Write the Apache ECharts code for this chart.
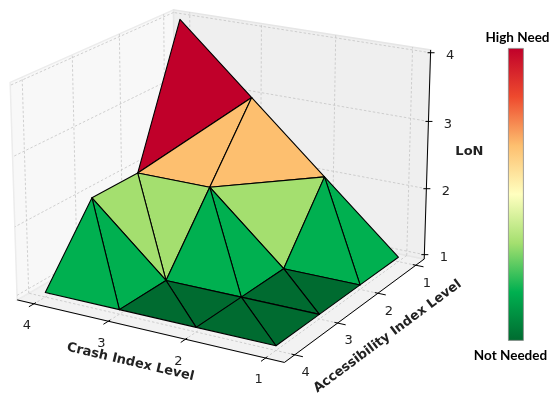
<!DOCTYPE html>
<html><head><meta charset="utf-8">
<script src="https://cdn.jsdelivr.net/npm/echarts@6.0.0/dist/echarts.min.js"></script>
<style>html,body{margin:0;padding:0;background:#fff}#chart{width:550px;height:401px}</style>
</head><body><div id="chart"></div>
<script>
// ---- data ----
const crashLevels = [1, 2, 3, 4];
const accessLevels = [1, 2, 3, 4];
const lonTicks = [1, 2, 3, 4];
const lonAtAccess1 = [1, 2, 3, 4];   // LoN for crash 1..4
const lonAtAccess2 = [1, 1, 2, 2];
const lonAtAccess3 = [1, 1, 1, 2];
const lonAtAccess4 = [1, 1, 1, 1];
const cellDiagonals = [['anti','main','main'],['anti','anti','anti'],['anti','anti','anti']];
const colorStops = ['#006b30','#00b050','#a4df6f','#ffffbf','#fdbf6f','#ee4a2e','#c0002a'];
const colorbarLabels = ['High Need', 'Not Needed'];

// ---- camera (azimuth, elevation, distance, scale, z aspect, centre x/y, margin, z limits) ----
const VIEW = [149.947, 19.452, 26.441, 87.462, 0.832, 225.208, 173.219, 0.230, 0.933, 4.040];
function proj(p, c, a, z) {
  const phi = p[0]*Math.PI/180, th = p[1]*Math.PI/180, D = p[2], S = p[3], kz = p[4];
  const ca = Math.cos(phi), sa = Math.sin(phi), ct = Math.cos(th), st = Math.sin(th);
  const X = c - 2.5, Y = -(a - 2.5), Z = (z - 2.5) * kz;
  const h1 = X*ca + Y*sa, h2 = -X*sa + Y*ca;
  const up = Z*ct - h2*st, d = h2*ct + Z*st;
  const f = D / (D - d);
  return [p[5] + S*f*h1, p[6] - S*f*up, d];
}

// ---- geometry ----
const M = VIEW[7], ZMIN = VIEW[8], ZMAX = VIEW[9];
const CMIN = crashLevels[0] - M, CMAX = crashLevels[crashLevels.length-1] + M;
const AMIN = accessLevels[0] - M, AMAX = accessLevels[accessLevels.length-1] + M;
const lonRows = [lonAtAccess1, lonAtAccess2, lonAtAccess3, lonAtAccess4];
const lon = (c, a) => lonRows[a-1][c-1];
const tris = [];
for (let ai = 0; ai < 3; ai++) for (let ci = 0; ci < 3; ci++) {
  const c = crashLevels[ci], a = accessLevels[ai], c1 = crashLevels[ci+1], a1 = accessLevels[ai+1];
  const pts = cellDiagonals[ai][ci] === 'main'
    ? [[[c,a],[c1,a],[c1,a1]], [[c,a],[c1,a1],[c,a1]]]
    : [[[c,a],[c1,a],[c,a1]], [[c1,a],[c1,a1],[c,a1]]];
  for (const t of pts) {
    const v = t.map(([cc, aa]) => [cc, aa, lon(cc, aa)]);
    const avg = (v[0][2] + v[1][2] + v[2][2]) / 3;
    const depth = v.reduce((s, q) => s + proj(VIEW, q[0], q[1], q[2])[2], 0) / 3;
    tris.push({v, avg, depth});
  }
}
tris.sort((x, y) => x.depth - y.depth);

function P2(api, c, a, z) { const q = proj(VIEW, c, a, z); return api.coord([q[0], q[1]]); }

const gridStyle = {stroke: '#c4c4c4', lineWidth: 0.8, lineDash: [2.5, 2]};
function line(api, p1, p2, style) {
  const a = P2(api, ...p1), b = P2(api, ...p2);
  return {type: 'line', shape: {x1: a[0], y1: a[1], x2: b[0], y2: b[1]}, style};
}
function poly(api, pts, style) {
  return {type: 'polygon', shape: {points: pts.map(p => P2(api, ...p))}, style};
}

function renderBack(params, api) {
  const ch = [];
  ch.push(poly(api, [[CMIN,AMIN,ZMIN],[CMAX,AMIN,ZMIN],[CMAX,AMAX,ZMIN],[CMIN,AMAX,ZMIN]], {fill: '#f2f2f2', stroke: '#e8e8e8', lineWidth: 1.5}));
  ch.push(poly(api, [[CMAX,AMIN,ZMIN],[CMAX,AMAX,ZMIN],[CMAX,AMAX,ZMAX],[CMAX,AMIN,ZMAX]], {fill: '#f8f8f8', stroke: '#ececec', lineWidth: 1.5}));
  ch.push(poly(api, [[CMIN,AMIN,ZMIN],[CMAX,AMIN,ZMIN],[CMAX,AMIN,ZMAX],[CMIN,AMIN,ZMAX]], {fill: '#efefef', stroke: '#e6e6e6', lineWidth: 1.5}));
  for (const c of crashLevels) {
    ch.push(line(api, [c,AMIN,ZMIN], [c,AMAX,ZMIN], gridStyle));
    ch.push(line(api, [c,AMIN,ZMIN], [c,AMIN,ZMAX], gridStyle));
  }
  for (const a of accessLevels) {
    ch.push(line(api, [CMIN,a,ZMIN], [CMAX,a,ZMIN], gridStyle));
    ch.push(line(api, [CMAX,a,ZMIN], [CMAX,a,ZMAX], gridStyle));
  }
  for (const z of lonTicks) {
    ch.push(line(api, [CMAX,AMIN,z], [CMAX,AMAX,z], gridStyle));
    ch.push(line(api, [CMIN,AMIN,z], [CMAX,AMIN,z], gridStyle));
  }
  return {type: 'group', children: ch};
}

const axisStyle = {stroke: '#000', lineWidth: 1};
const tickFont = '13px "DejaVu Sans"';
const titleFont = 'bold 13px "DejaVu Sans"';
function txt(pt, dx, dy, text, font, rot) {
  return {type: 'text', x: pt[0] + dx, y: pt[1] + dy, rotation: rot || 0,
    style: {text, fill: '#222', font, align: 'center', verticalAlign: 'middle'}};
}
function renderAxes(params, api) {
  const ch = [];
  ch.push(line(api, [CMAX,AMAX,ZMIN], [CMIN,AMAX,ZMIN], axisStyle));
  ch.push(line(api, [CMIN,AMAX,ZMIN], [CMIN,AMIN,ZMIN], axisStyle));
  ch.push(line(api, [CMIN,AMIN,ZMIN], [CMIN,AMIN,ZMAX], axisStyle));
  for (const c of crashLevels) {
    ch.push(line(api, [c,AMAX-0.04,ZMIN], [c,AMAX+0.1,ZMIN], axisStyle));
    ch.push(txt(P2(api, c, AMAX, ZMIN), -7, 22, String(c), tickFont));
  }
  for (const a of accessLevels) {
    ch.push(line(api, [CMIN+0.04,a,ZMIN], [CMIN-0.1,a,ZMIN], axisStyle));
    ch.push(txt(P2(api, CMIN, a, ZMIN), 11, 18, String(a), tickFont));
  }
  for (const z of lonTicks) {
    const q = P2(api, CMIN, AMIN, z);
    ch.push({type: 'line', shape: {x1: q[0]-3, y1: q[1], x2: q[0]+4, y2: q[1]}, style: axisStyle});
    ch.push(txt(q, 19.5, 3, String(z), tickFont));
  }
  const c0 = P2(api, CMAX, AMAX, ZMIN), c1 = P2(api, CMIN, AMAX, ZMIN), c2 = P2(api, CMIN, AMIN, ZMIN);
  const mid = (lo, hi) => (lo + hi) / 2;
  const rc = -Math.atan2(c1[1]-c0[1], c1[0]-c0[0]);
  const ra = -Math.atan2(c2[1]-c1[1], c2[0]-c1[0]);
  ch.push(txt(P2(api, mid(crashLevels[0], crashLevels[3]), AMAX, ZMIN), -16, 32, 'Crash Index Level', titleFont, rc));
  ch.push(txt(P2(api, CMIN, mid(accessLevels[0], accessLevels[3]), ZMIN), 29.5, 28.5, 'Accessibility Index Level', titleFont, ra));
  ch.push(txt(P2(api, CMIN, AMIN, mid(lonTicks[0], lonTicks[3])), 42, -4, 'LoN', titleFont));
  return {type: 'group', children: ch};
}
function renderSurface(params, api) {
  const t = tris[api.value(0)];
  return {type: 'polygon', shape: {points: t.v.map(q => P2(api, q[0], q[1], q[2]))},
    style: {fill: api.visual('color'), stroke: '#000', lineWidth: 1.1, lineJoin: 'round'}};
}

const BAR = {left: 508, top: 48, width: 15, height: 292};
const barFont = {fill: '#000', font: 'bold 13.5px Lato', align: 'center', verticalAlign: 'middle'};
const chart = echarts.init(document.getElementById('chart'), null, {renderer: 'canvas'});
chart.setOption({
  animation: false,
  grid: {left: 0, right: 0, top: 0, bottom: 0},
  xAxis: {type: 'value', min: 0, max: 550, show: false},
  yAxis: {type: 'value', min: 0, max: 401, inverse: true, show: false},
  visualMap: {
    type: 'continuous', show: false, min: 1, max: 3, dimension: 1, seriesIndex: 1,
    inRange: {color: colorStops}
  },
  graphic: [
    {type: 'rect', left: BAR.left, top: BAR.top, shape: {width: BAR.width, height: BAR.height},
      style: {fill: new echarts.graphic.LinearGradient(0, 1, 0, 0,
        colorStops.map((c, i) => ({offset: i / (colorStops.length - 1), color: c}))),
        stroke: '#8a8a8a', lineWidth: 0.8}, z: 100},
    {type: 'text', x: BAR.left + BAR.width / 2 + 2, y: BAR.top - 10, style: Object.assign({text: colorbarLabels[0]}, barFont), z: 100},
    {type: 'text', x: BAR.left + BAR.width / 2 - 5, y: BAR.top + BAR.height + 16, style: Object.assign({text: colorbarLabels[1]}, barFont), z: 100}
  ],
  series: [
    {type: 'custom', renderItem: renderBack, data: [[0, 0]], clip: false, z: 1, silent: true},
    {type: 'custom', renderItem: renderSurface, data: tris.map((t, i) => [i, t.avg]), clip: false, z: 2, silent: true},
    {type: 'custom', renderItem: renderAxes, data: [[0, 0]], clip: false, z: 3, silent: true}
  ]
});
</script></body></html>
